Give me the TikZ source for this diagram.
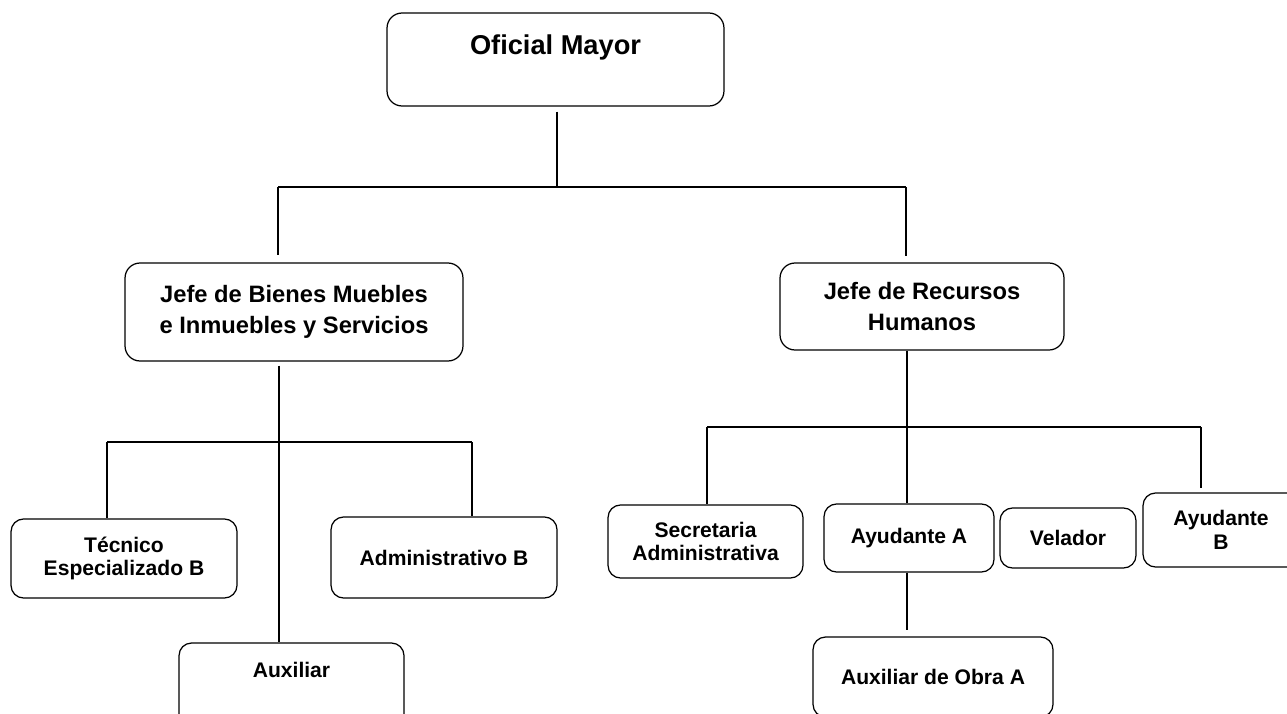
\documentclass[tikz,border=0pt]{standalone}
\usepackage{fontspec}
\setmainfont{Liberation Sans}
\usepackage{tikz}
\usetikzlibrary{positioning, calc}

\begin{document}
\begin{tikzpicture}[x=0.02cm, y=-0.02cm,
    box/.style={rectangle, rounded corners=0.25cm, draw, line width=0.7pt,
        align=center, inner sep=0pt,
        font=\fontsize{12}{13.5}\selectfont\bfseries},
    bigbox/.style={box, rounded corners=0.3cm,
        font=\fontsize{13.5}{18}\selectfont\bfseries},
    conn/.style={line width=1.1pt}]
    \useasboundingbox (0,0) rectangle (1287,713);
    \clip (0,0) rectangle (1287,713);

    % puestos
    \node[bigbox, minimum width=6.74cm, minimum height=1.86cm, text height=0.4cm, text depth=0.58cm,
        font=\fontsize{15.5}{18}\selectfont\bfseries] (om) at (555.5,59.5) {Oficial Mayor};
    \node[bigbox, minimum width=6.76cm, minimum height=1.96cm] (jb) at (294,312) {Jefe de Bienes Muebles\\e Inmuebles y Servicios};
    \node[bigbox, minimum width=5.68cm, minimum height=1.74cm] (jr) at (922,306.5) {Jefe de Recursos\\Humanos};

    \node[box, minimum width=4.52cm, minimum height=1.58cm] (tec) at (124,558.5) {Técnico\\Especializado B};
    \node[box, minimum width=4.52cm, minimum height=1.62cm] (adm) at (444,557.5) {Administrativo B};
    \node[box, minimum width=4.5cm, minimum height=1.94cm, text height=0.31cm, text depth=0.87cm] (aux) at (291.5,691.5) {Auxiliar};

    \node[box, minimum width=3.9cm, minimum height=1.46cm] (sec) at (705.5,541.5) {Secretaria\\Administrativa};
    \node[box, minimum width=3.4cm, minimum height=1.36cm] (ayA) at (909,538) {Ayudante A};
    \node[box, minimum width=2.72cm, minimum height=1.2cm] (vel) at (1068,538) {Velador};
    \node[box, minimum width=3.12cm, minimum height=1.48cm] (ayB) at (1221,530) {Ayudante\\B};
    \node[box, minimum width=4.8cm, minimum height=1.6cm] (obra) at (933,677) {Auxiliar de Obra A};

    % lineas
    \coordinate (bus0) at (557,187);
    \coordinate (bus0l) at (278,187);
    \coordinate (bus0r) at (906,187);
    \draw[conn, shorten <=0.1cm] (om.south -| bus0) -- (bus0);
    \draw[conn] (bus0l) -- (bus0r);
    \draw[conn, shorten >=0.15cm] (bus0l) -- (bus0l |- jb.north);
    \draw[conn, shorten >=0.13cm] (bus0r) -- (bus0r |- jr.north);

    \coordinate (bus1) at (279,442);
    \coordinate (bus1l) at (107,442);
    \coordinate (bus1r) at (472,442);
    \draw[conn, shorten <=0.08cm] (jb.south -| bus1) -- (aux.north -| bus1);
    \draw[conn] (bus1l) -- (bus1r);
    \draw[conn] (bus1l) -- (bus1l |- tec.north);
    \draw[conn] (bus1r) -- (bus1r |- adm.north);

    \coordinate (bus2) at (907,427);
    \coordinate (bus2l) at (707,427);
    \coordinate (bus2r) at (1201,427);
    \draw[conn] (jr.south -| bus2) -- (ayA.north -| bus2);
    \draw[conn] (bus2l) -- (bus2r);
    \draw[conn] (bus2l) -- (bus2l |- sec.north);
    \draw[conn, shorten >=0.08cm] (bus2r) -- (bus2r |- ayB.north);
    \draw[conn, shorten >=0.12cm] (ayA.south -| bus2) -- (obra.north -| bus2);
\end{tikzpicture}
\end{document}
